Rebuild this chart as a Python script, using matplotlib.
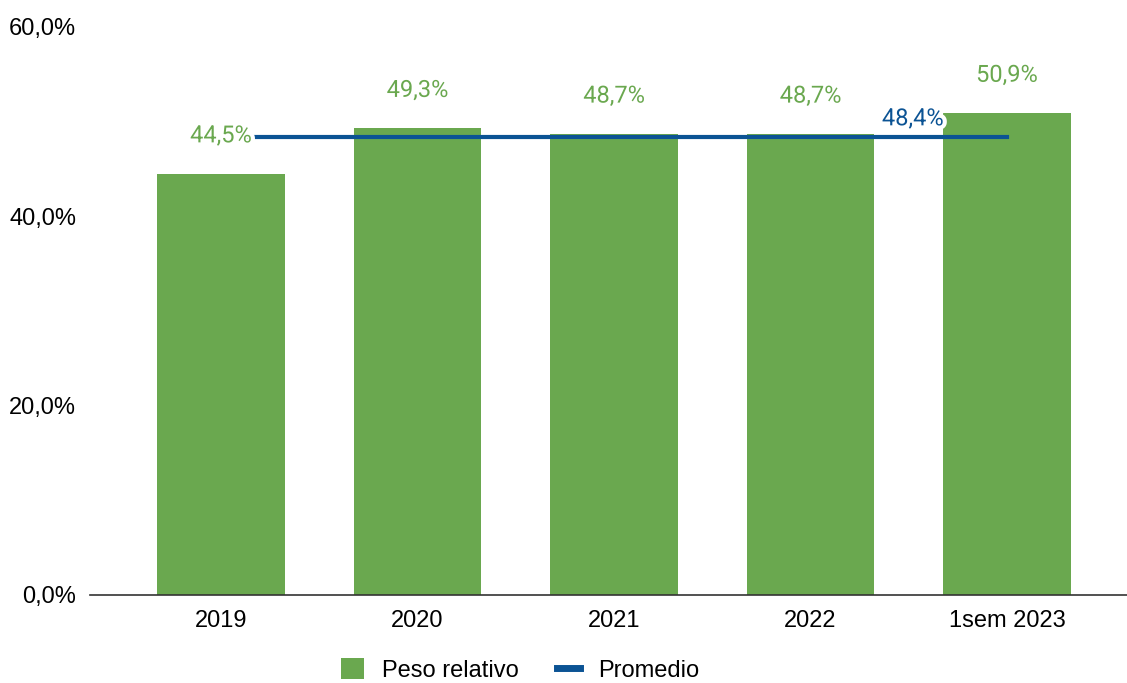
import matplotlib.pyplot as plt
import matplotlib.patheffects as pe
from matplotlib.patches import Patch
from matplotlib.lines import Line2D

categories = ['2019', '2020', '2021', '2022', '1sem 2023']
peso_relativo = [44.5, 49.3, 48.7, 48.7, 50.9]
promedio = 48.4
yticks = [0, 20, 40, 60]

green = '#6aa84f'
blue = '#0b5394'

fig = plt.figure(figsize=(11.27, 6.83), dpi=100)
ax = fig.add_axes([90 / 1127, 88 / 683, 1 - 90 / 1127, 568 / 683])

x = list(range(len(categories)))
ax.bar(x, peso_relativo, width=0.65, color=green, zorder=2)
ax.plot([x[0], x[-1]], [promedio, promedio], color=blue, lw=3, zorder=3)

halo = [pe.withStroke(linewidth=6, foreground='white')]
for xi, v in zip(x, peso_relativo):
    ax.text(xi, v + 4.0, f'{v:.1f}%'.replace('.', ','), ha='center', va='center',
            color=green, fontsize=17, family='Roboto', zorder=4, path_effects=halo)
ax.text(3.52, promedio + 1.9, f'{promedio:.1f}%'.replace('.', ','), ha='center', va='center',
        color=blue, fontsize=17, family='Roboto', zorder=4, path_effects=halo)

ax.set_xlim(-0.667, 4.61)
ax.set_ylim(0, 60)
ax.set_xticks(x)
ax.set_xticklabels(categories, family='Liberation Sans', fontsize=17)
ax.set_yticks(yticks)
ax.set_yticklabels([f'{t:.1f}%'.replace('.', ',') for t in yticks], family='Liberation Sans', fontsize=17)
ax.tick_params(axis='both', length=0)
ax.tick_params(axis='y', pad=10)
ax.tick_params(axis='x', pad=11)
for s in ['top', 'right', 'left']:
    ax.spines[s].set_visible(False)
ax.spines['bottom'].set_color('#333333')
ax.spines['bottom'].set_linewidth(1.2)
ax.spines['bottom'].set_zorder(5)

handles = [Patch(facecolor=green, edgecolor='none', label='Peso relativo'),
           Line2D([0], [0], color=blue, lw=5, label='Promedio')]
fig.legend(handles=handles, loc='center', bbox_to_anchor=(520 / 1127, 1 - 670 / 683),
           ncol=2, frameon=False, prop={'family': 'Liberation Sans', 'size': 17},
           handlelength=0.97, handleheight=1.0, columnspacing=1.65, handletextpad=0.76)

fig.savefig('out.png', dpi=100)
